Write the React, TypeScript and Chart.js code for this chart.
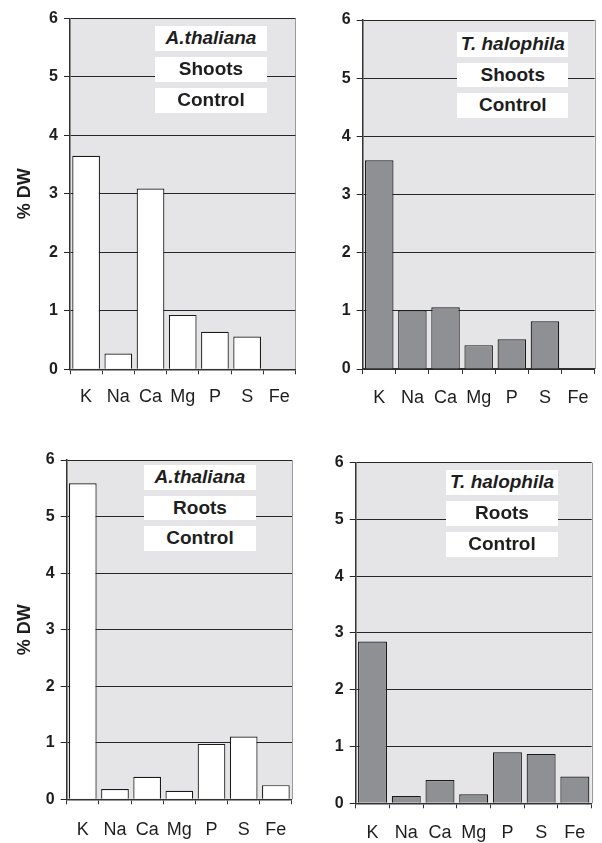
import React, { useEffect, useRef } from "react";
import { Chart, registerables } from "chart.js";

Chart.register(...registerables);

const categories = ["K", "Na", "Ca", "Mg", "P", "S", "Fe"];
const athShoots = [3.65, 0.27, 3.09, 0.93, 0.64, 0.56, null];
const thaShoots = [3.59, 1.01, 1.06, 0.41, 0.51, 0.82, null];
const athRoots = [5.59, 0.18, 0.4, 0.15, 0.98, 1.11, 0.25];
const thaRoots = [2.85, 0.13, 0.41, 0.16, 0.9, 0.87, 0.47];
const yTicks = [0, 1, 2, 3, 4, 5, 6];
const yTitle = "% DW";

const FONT = "'Liberation Sans', Arial, Helvetica, sans-serif";
const INK = "#1e1e1e";

const bgPlugin = {
  id: "plotBg",
  beforeDraw(chart: any) {
    const { ctx, chartArea: a } = chart;
    ctx.save();
    ctx.fillStyle = "#e5e5e7";
    ctx.fillRect(a.left, a.top, a.right - a.left, a.bottom - a.top);
    ctx.strokeStyle = "#9a9a9a";
    ctx.lineWidth = 1;
    ctx.beginPath();
    ctx.moveTo(Math.round(a.right) + 0.5, a.top);
    ctx.lineTo(Math.round(a.right) + 0.5, a.bottom);
    ctx.stroke();
    ctx.restore();
  },
};

type PanelProps = {
  left: number;
  top: number;
  width: number;
  height: number;
  plot: { l: number; t: number; r: number; b: number };
  values: (number | null)[];
  fill: string;
  showTitle: boolean;
  xPad: number;
  labels: string[];
  italicFirst: boolean;
  box: { x: number; y: number; w: number; h: number; pitch: number };
};

function Panel(p: PanelProps) {
  const ref = useRef<HTMLCanvasElement>(null);
  useEffect(() => {
    if (!ref.current) return;
    const yw = p.plot.l - p.left;
    const xh = p.top + p.height - p.plot.b;
    const chart = new Chart(ref.current, {
      type: "bar",
      data: {
        labels: categories,
        datasets: [
          {
            data: p.values as any,
            backgroundColor: p.fill,
            borderColor: "#1a1a1a",
            borderWidth: 1.2,
            barPercentage: 0.86,
            categoryPercentage: 1,
          },
        ],
      },
      options: {
        responsive: false,
        animation: false,
        devicePixelRatio: 1,
        layout: {
          autoPadding: false,
          padding: {
            left: 0,
            top: p.plot.t - p.top,
            right: p.left + p.width - p.plot.r,
            bottom: 0,
          },
        },
        plugins: {
          legend: { display: false },
          tooltip: { enabled: false },
        },
        scales: {
          x: {
            offset: true,
            grid: {
              offset: true,
              drawOnChartArea: false,
              drawTicks: true,
              tickLength: 5,
              color: "#333",
              lineWidth: 1,
            },
            border: { color: "#333", width: 1.5 },
            ticks: {
              color: INK,
              padding: p.xPad,
              font: { family: FONT, size: 18 },
              maxRotation: 0,
              autoSkip: false,
            },
            afterFit(scale: any) {
              scale.height = xh;
            },
          },
          y: {
            min: 0,
            max: 6,
            afterBuildTicks(scale: any) {
              scale.ticks = yTicks.map((v) => ({ value: v }));
            },
            grid: {
              color: "#262626",
              lineWidth: 1,
              tickLength: 6,
              drawTicks: true,
            },
            border: { color: "#333", width: 1.5 },
            ticks: {
              color: INK,
              padding: 6,
              font: { family: FONT, size: 16, weight: "bold" },
            },
            title: {
              display: p.showTitle,
              text: yTitle,
              color: INK,
              font: { family: FONT, size: 18, weight: "bold" },
              padding: { top: 14, bottom: 0 },
            },
            afterFit(scale: any) {
              scale.width = yw;
            },
          },
        },
      },
      plugins: [bgPlugin],
    } as any);
    return () => chart.destroy();
  }, []);

  return (
    <>
      <canvas
        ref={ref}
        width={p.width}
        height={p.height}
        style={{
          position: "absolute",
          left: p.left,
          top: p.top,
          width: p.width,
          height: p.height,
        }}
      />
      {p.labels.map((t, i) => (
        <div
          key={i}
          style={{
            position: "absolute",
            left: p.box.x,
            top: p.box.y + i * p.box.pitch,
            width: p.box.w,
            height: p.box.h,
            lineHeight: p.box.h + "px",
            background: "#fff",
            color: INK,
            textAlign: "center",
            fontFamily: FONT,
            fontWeight: "bold",
            fontStyle: i === 0 && p.italicFirst ? "italic" : "normal",
            fontSize: 19,
            whiteSpace: "nowrap",
          }}
        >
          {t}
        </div>
      ))}
    </>
  );
}

export default function App() {
  return (
    <div
      style={{
        position: "absolute",
        left: 0,
        top: 0,
        width: 602,
        height: 843,
        background: "#fff",
      }}
    >
      <Panel
        left={0}
        top={0}
        width={302}
        height={420}
        plot={{ l: 70, t: 18.3, r: 300, b: 369.3 }}
        values={athShoots}
        fill="#ffffff"
        showTitle={true}
        xPad={12}
        labels={["A.thaliana", "Shoots", "Control"]}
        italicFirst={true}
        box={{ x: 155, y: 26, w: 112, h: 24.5, pitch: 31.2 }}
      />
      <Panel
        left={302}
        top={0}
        width={300}
        height={420}
        plot={{ l: 362.7, t: 20, r: 596, b: 369 }}
        values={thaShoots}
        fill="#8f9094"
        showTitle={false}
        xPad={13}
        labels={["T. halophila", "Shoots", "Control"]}
        italicFirst={true}
        box={{ x: 457.3, y: 32.3, w: 111, h: 24.5, pitch: 30.5 }}
      />
      <Panel
        left={0}
        top={420}
        width={302}
        height={423}
        plot={{ l: 66.7, t: 460, r: 293.3, b: 799.3 }}
        values={athRoots}
        fill="#ffffff"
        showTitle={true}
        xPad={15}
        labels={["A.thaliana", "Roots", "Control"]}
        italicFirst={true}
        box={{ x: 144, y: 465, w: 112, h: 24.8, pitch: 30.5 }}
      />
      <Panel
        left={302}
        top={420}
        width={300}
        height={423}
        plot={{ l: 355.7, t: 462.7, r: 591.7, b: 803.3 }}
        values={thaRoots}
        fill="#8f9094"
        showTitle={false}
        xPad={14}
        labels={["T. halophila", "Roots", "Control"]}
        italicFirst={true}
        box={{ x: 446, y: 470, w: 112, h: 24.7, pitch: 31.2 }}
      />
    </div>
  );
}
